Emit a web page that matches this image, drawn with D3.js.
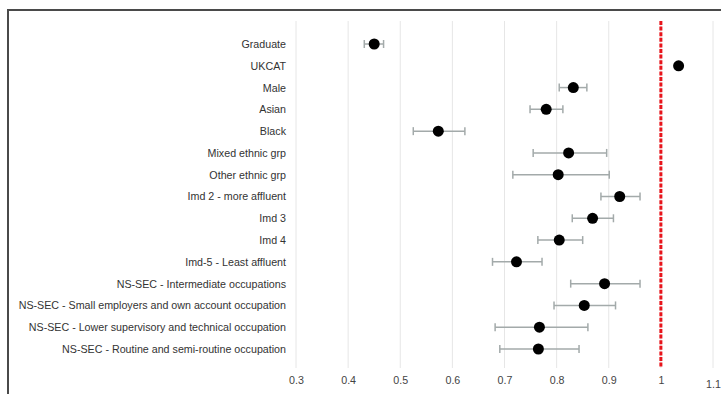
<!DOCTYPE html>
<html>
<head>
<meta charset="utf-8">
<script src="https://cdn.jsdelivr.net/npm/d3@7"></script>
<style>
  html, body { margin: 0; padding: 0; background: #fff; }
  svg { display: block; font-family: "Liberation Sans", Arial, sans-serif; }
</style>
</head>
<body>
<svg id="chart" width="721" height="394"></svg>
<script>
// Odds ratios with 95% confidence intervals, one row per predictor
const categories = [
  "Graduate", "UKCAT", "Male", "Asian", "Black", "Mixed ethnic grp", "Other ethnic grp",
  "Imd 2 - more affluent", "Imd 3", "Imd 4", "Imd-5 - Least affluent",
  "NS-SEC - Intermediate occupations",
  "NS-SEC - Small employers and own account occupation",
  "NS-SEC - Lower supervisory and technical occupation",
  "NS-SEC - Routine and semi-routine occupation"
];
const estimates = [0.450, 1.034, 0.832, 0.780, 0.573, 0.823, 0.803, 0.921, 0.869, 0.805, 0.723, 0.892, 0.853, 0.767, 0.765];
const lowerCI   = [0.431, 1.031, 0.805, 0.749, 0.525, 0.755, 0.716, 0.885, 0.830, 0.764, 0.677, 0.827, 0.795, 0.682, 0.691];
const upperCI   = [0.468, 1.037, 0.858, 0.812, 0.624, 0.896, 0.901, 0.960, 0.909, 0.850, 0.772, 0.960, 0.913, 0.860, 0.843];
const tickValues = [0.3, 0.4, 0.5, 0.6, 0.7, 0.8, 0.9, 1, 1.1];
const referenceValue = 1;

const rows = categories.map((c, i) => ({ c, est: estimates[i], lo: lowerCI[i], hi: upperCI[i] }));

const svg = d3.select("#chart");
const FONT = "'Liberation Sans', Arial, sans-serif";

// outer frame (top and left edges show)
svg.append("path")
  .attr("d", "M8,394 L8,10 L721,10")
  .attr("fill", "none").attr("stroke", "#4a4a4a").attr("stroke-width", 2);

const x = d3.scaleLinear().domain([0.3, 1.1]).range([296, 713]);
const y = d3.scalePoint().domain(categories).range([44, 349]);
const plotTop = 21, plotBottom = 368;

// vertical gridlines
svg.append("g").selectAll("line").data(tickValues).join("line")
  .attr("x1", d => x(d)).attr("x2", d => x(d))
  .attr("y1", plotTop).attr("y2", plotBottom)
  .attr("stroke", "#e6e6e6").attr("stroke-width", 1);

// x axis tick labels
const xAxis = d3.axisBottom(x).tickValues(tickValues).tickSize(0).tickPadding(0)
  .tickFormat(d => d3.format("~g")(d));
const gx = svg.append("g").attr("transform", `translate(0,${plotBottom + 6})`).call(xAxis);
gx.attr("font-family", FONT);
gx.select(".domain").remove();
gx.selectAll("text")
  .attr("font-size", 10.7).attr("fill", "#444")
  .attr("dy", d => d > 1.05 ? "1.3em" : "0.95em");

// category labels
const yAxis = d3.axisLeft(y).tickSize(0).tickPadding(0);
const gy = svg.append("g").attr("transform", "translate(286,0)").call(yAxis);
gy.attr("font-family", FONT);
gy.select(".domain").remove();
gy.selectAll("text")
  .attr("font-size", 10.7).attr("fill", "#333");

// reference line at OR = 1
svg.append("line")
  .attr("x1", x(referenceValue)).attr("x2", x(referenceValue))
  .attr("y1", plotTop).attr("y2", plotBottom)
  .attr("stroke", "#e8141b").attr("stroke-width", 3)
  .attr("stroke-dasharray", "4,1.6");

// confidence intervals
const eb = svg.append("g").attr("stroke", "#a3aaaa").attr("stroke-width", 1.5);
eb.selectAll("line.ci").data(rows).join("line").attr("class", "ci")
  .attr("x1", d => x(d.lo)).attr("x2", d => x(d.hi))
  .attr("y1", d => y(d.c)).attr("y2", d => y(d.c));
eb.selectAll("line.capL").data(rows).join("line").attr("class", "capL")
  .attr("x1", d => x(d.lo)).attr("x2", d => x(d.lo))
  .attr("y1", d => y(d.c) - 4).attr("y2", d => y(d.c) + 4);
eb.selectAll("line.capR").data(rows).join("line").attr("class", "capR")
  .attr("x1", d => x(d.hi)).attr("x2", d => x(d.hi))
  .attr("y1", d => y(d.c) - 4).attr("y2", d => y(d.c) + 4);

// point estimates
svg.append("g").selectAll("circle").data(rows).join("circle")
  .attr("cx", d => x(d.est)).attr("cy", d => y(d.c))
  .attr("r", 5.5).attr("fill", "#000");
</script>
</body>
</html>
